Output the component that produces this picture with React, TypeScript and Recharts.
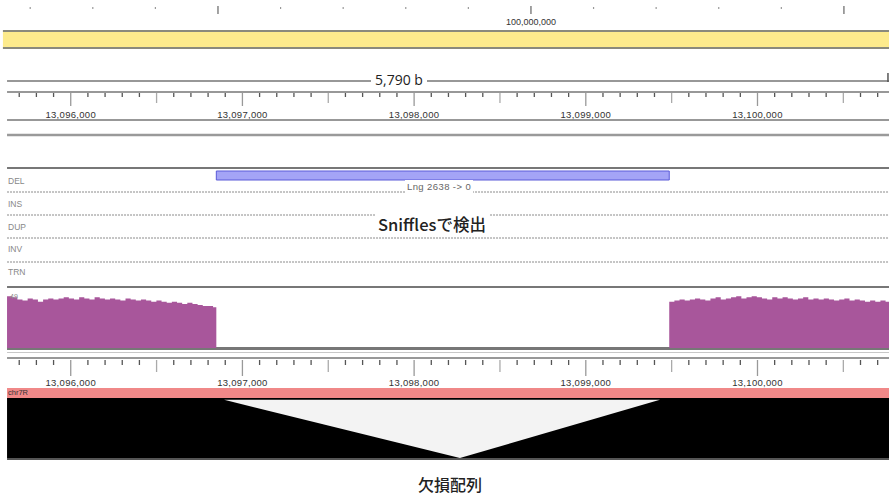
import React from 'react';
import { ComposedChart, AreaChart, Area, XAxis, YAxis, ReferenceLine, ReferenceArea } from 'recharts';

// genomic window shown in the data panel
const G0 = 13095588;
const G1 = 13100766;
const PANEL_START = 13095629;
const W = 889;

// chromosome-level ruler at the very top
const ideoDomain = [83035000, 111440000];
const ideoTicks = [84e6, 86e6, 88e6, 90e6, 92e6, 94e6, 96e6, 98e6, 100e6, 102e6, 104e6, 106e6, 108e6, 110e6];
const ideoLabels = [100000000];

// locus ruler
const rulerTicks = Array.from({ length: 51 }, (_, i) => 13095700 + i * 100);
const rulerLabels = [13096000, 13097000, 13098000, 13099000, 13100000];
const spanLabel = '5,790 b';

// Sniffles SV calls
const svRows = ['DEL', 'INS', 'DUP', 'INV', 'TRN'];
const svCalls = [{ type: 'DEL', start: 13096848, end: 13099486, label: 'Lng 2638 -> 0' }];

// coverage, 30 bp bins
const covStep = 30;
const covLeftStart = 13095629;
const covLeft = [47, 46, 44, 43, 45, 44, 42, 44, 45, 44, 45, 46, 45, 44, 46, 45, 44, 46, 45, 44,
  45, 44, 43, 45, 44, 43, 44, 43, 42, 43, 42, 41, 42, 41, 40, 41, 40, 39, 38, 38, 37];
const covRightStart = 13099486;
const covRight = [42, 43, 44, 43, 44, 45, 44, 43, 45, 46, 44, 45, 46, 47, 45, 46, 47, 46, 45, 44,
  46, 45, 46, 45, 44, 45, 46, 44, 45, 44, 45, 44, 43, 44, 45, 43, 44, 43, 42, 43, 42, 43, 42];
const covMax = 49;

// deletion gap in the alignment panel
const gapPos = [13096893, 13098267, 13099432];
const gapLow = [1, 0, 1];

const covData = [
  ...covLeft.map((v, i) => ({ pos: covLeftStart + i * covStep, cov: v })),
  { pos: svCalls[0].start, cov: 0 },
  ...covRight.map((v, i) => ({ pos: covRightStart + i * covStep, cov: v })),
  { pos: G1, cov: covRight[covRight.length - 1] },
];
const gapData = gapPos.map((p, i) => ({ pos: p, band: [gapLow[i], 1] }));

const m0 = { top: 0, right: 0, bottom: 0, left: 0 };
const fmt = (v: number) => v.toLocaleString('en-US');
const rulerFont = '"Liberation Sans", Arial, sans-serif';

const hLine = (y: number, stroke: string, sw: number, dash?: string, x1 = PANEL_START) => (
  <ReferenceLine key={'h' + y} segment={[{ x: x1, y }, { x: G1, y }]} stroke={stroke}
    strokeWidth={sw} strokeDasharray={dash} ifOverflow="visible" />
);

function Frame() {
  return (
    <ComposedChart width={W} height={495} data={[{ pos: G0 }, { pos: G1 }]} margin={m0}>
      <XAxis dataKey="pos" type="number" domain={[G0, G1]} hide allowDataOverflow />
      <YAxis type="number" domain={[0, 495]} reversed hide allowDataOverflow />
      <ReferenceArea x1={13095605} x2={G1} y1={31} y2={48} fill="#fdeb8c" fillOpacity={1} stroke="none" />
      {hLine(31, '#8a8a7c', 2, undefined, 13095605)}
      {hLine(48, '#8a8a7c', 2, undefined, 13095605)}
      {hLine(81, '#333', 1.2)}
      <ReferenceLine segment={[{ x: 13100760, y: 73 }, { x: 13100760, y: 82 }]} stroke="#555" strokeWidth={1.5} ifOverflow="visible" />
      {hLine(92, '#333', 1.2)}
      {hLine(120, '#333', 1.2)}
      {hLine(135, '#9a9a9a', 2.5)}
      {hLine(168, '#777', 2)}
      {hLine(192, '#8a8a8a', 1, '2 1')}
      {hLine(215, '#8a8a8a', 1, '2 1')}
      {hLine(238, '#8a8a8a', 1, '2 1')}
      {hLine(262, '#8a8a8a', 1, '2 1')}
      {hLine(287, '#777', 2)}
      {hLine(348.5, '#777', 3)}
      {hLine(352.5, '#c8c8c8', 1)}
      {hLine(358, '#333', 1.2)}
      {svCalls.map((c) => (
        <ReferenceArea key={c.type} x1={c.start} x2={c.end} y1={171} y2={180}
          fill="#a4a4f6" fillOpacity={1} stroke="#5a5ad8" strokeWidth={1} />
      ))}
      <ReferenceArea x1={PANEL_START} x2={G1} y1={388} y2={398} fill="#f08888" fillOpacity={1} stroke="none" />
      <ReferenceArea x1={PANEL_START} x2={G1} y1={398} y2={458} fill="#000" fillOpacity={1} stroke="none" />
      {hLine(459, '#555', 2)}
    </ComposedChart>
  );
}

type TickSpec = { y0: number; minor: number; mid: number; major: number; labelY: number };

const RulerTick = (props: any) => {
  const { x, payload, spec } = props;
  const v: number = payload.value;
  const s: TickSpec = spec;
  const isMajor = v % 1000 === 0;
  const isMid = !isMajor && v % 500 === 0;
  const len = isMajor ? s.major : isMid ? s.mid : s.minor;
  const col = isMajor ? '#999' : isMid ? '#aaa' : '#555';
  return (
    <g>
      <line x1={x} x2={x} y1={s.y0} y2={s.y0 + len} stroke={col} strokeWidth={1.3} />
      {rulerLabels.includes(v) && (
        <text x={x} y={s.labelY} textAnchor="middle" fontSize={9.5} letterSpacing={0.3}
          fontFamily={rulerFont} fill="#333">{fmt(v)}</text>
      )}
    </g>
  );
};

function Ruler({ top, spec }: { top: number; spec: TickSpec }) {
  return (
    <div style={{ position: 'absolute', left: 0, top }}>
      <ComposedChart width={W} height={32} data={rulerTicks.map((t) => ({ pos: t }))} margin={m0}>
        <XAxis dataKey="pos" type="number" domain={[G0, G1]} ticks={rulerTicks} interval={0}
          height={30} axisLine={false} tickLine={false} allowDataOverflow
          tick={(p: any) => <RulerTick {...p} spec={spec} />} />
        <YAxis hide />
      </ComposedChart>
    </div>
  );
}

const IdeoTick = (props: any) => {
  const { x, payload } = props;
  const v: number = payload.value;
  const tall = v % 10e6 === 0;
  return (
    <g>
      <line x1={x} x2={x} y1={tall ? 6 : 7} y2={tall ? 14 : 9} stroke={tall ? '#666' : '#999'} strokeWidth={1.2} />
      {ideoLabels.includes(v) && (
        <text x={x} y={25} textAnchor="middle" fontSize={9} fontFamily={rulerFont} fill="#333">{fmt(v)}</text>
      )}
    </g>
  );
};

function Ideogram() {
  return (
    <div style={{ position: 'absolute', left: 0, top: 0 }}>
      <ComposedChart width={W} height={30} data={ideoTicks.map((t) => ({ pos: t }))} margin={m0}>
        <XAxis dataKey="pos" type="number" domain={ideoDomain} ticks={ideoTicks} interval={0}
          height={28} axisLine={false} tickLine={false} allowDataOverflow tick={(p: any) => <IdeoTick {...p} />} />
        <YAxis hide />
      </ComposedChart>
    </div>
  );
}

function Coverage() {
  return (
    <div style={{ position: 'absolute', left: 0, top: 294 }}>
      <AreaChart width={W} height={54} data={covData} margin={m0}>
        <XAxis dataKey="pos" type="number" domain={[G0, G1]} hide allowDataOverflow />
        <YAxis domain={[0, covMax]} hide allowDataOverflow />
        <Area type="stepAfter" dataKey="cov" fill="#a8569b" fillOpacity={1} stroke="none"
          dot={false} activeDot={false} isAnimationActive={false} />
      </AreaChart>
    </div>
  );
}

function Gap() {
  return (
    <div style={{ position: 'absolute', left: 0, top: 398 }}>
      <AreaChart width={W} height={60} data={gapData} margin={m0}>
        <XAxis dataKey="pos" type="number" domain={[G0, G1]} hide allowDataOverflow />
        <YAxis domain={[0, 1.03]} hide allowDataOverflow />
        <Area type="linear" dataKey="band" fill="#f3f3f3" fillOpacity={1} stroke="none"
          dot={false} activeDot={false} isAnimationActive={false} />
      </AreaChart>
    </div>
  );
}

const label = (text: string, left: number, cy: number, size: number, color: string, extra: React.CSSProperties = {}) => (
  <div key={text} style={{
    position: 'absolute', left, top: cy - size * 0.7, fontSize: size, lineHeight: `${size * 1.4}px`,
    color, whiteSpace: 'nowrap', fontFamily: rulerFont, ...extra,
  }}>{text}</div>
);

const rowY = [182, 205, 228, 250, 273];

export default function App() {
  return (
    <div style={{ position: 'absolute', left: 0, top: 0, width: W, height: 495, background: '#fff', overflow: 'hidden' }}>
      <div style={{ position: 'absolute', left: 0, top: 0 }}><Frame /></div>
      <Ideogram />
      <Ruler top={92} spec={{ y0: 1, minor: 4, mid: 10, major: 13, labelY: 25.5 }} />
      <Coverage />
      <Ruler top={358} spec={{ y0: 2, minor: 5, mid: 12, major: 16, labelY: 28 }} />
      <Gap />
      {label(spanLabel, 371, 80, 14, '#222', { background: '#fff', padding: '0 4px', fontFamily: '"Open Sans", sans-serif' })}
      {svRows.map((r, i) => label(r, 8, rowY[i], 8.5, '#888'))}
      {label(svCalls[0].label, 405, 187, 9.5, '#666', { background: '#fff', padding: '0 2px', letterSpacing: 0.4 })}
      {label('Snifflesで検出', 375, 225, 16.5, '#222', {
        background: '#fff', padding: '0 3px', fontFamily: '"Noto Sans CJK JP", sans-serif', fontWeight: 500,
      })}
      {label('49', 10, 297, 7, '#888')}
      {label('chr7R', 8, 393, 7.5, '#333')}
      {label('欠損配列', 418, 484, 16, '#222', { fontFamily: '"Noto Sans CJK JP", sans-serif', fontWeight: 500 })}
    </div>
  );
}
